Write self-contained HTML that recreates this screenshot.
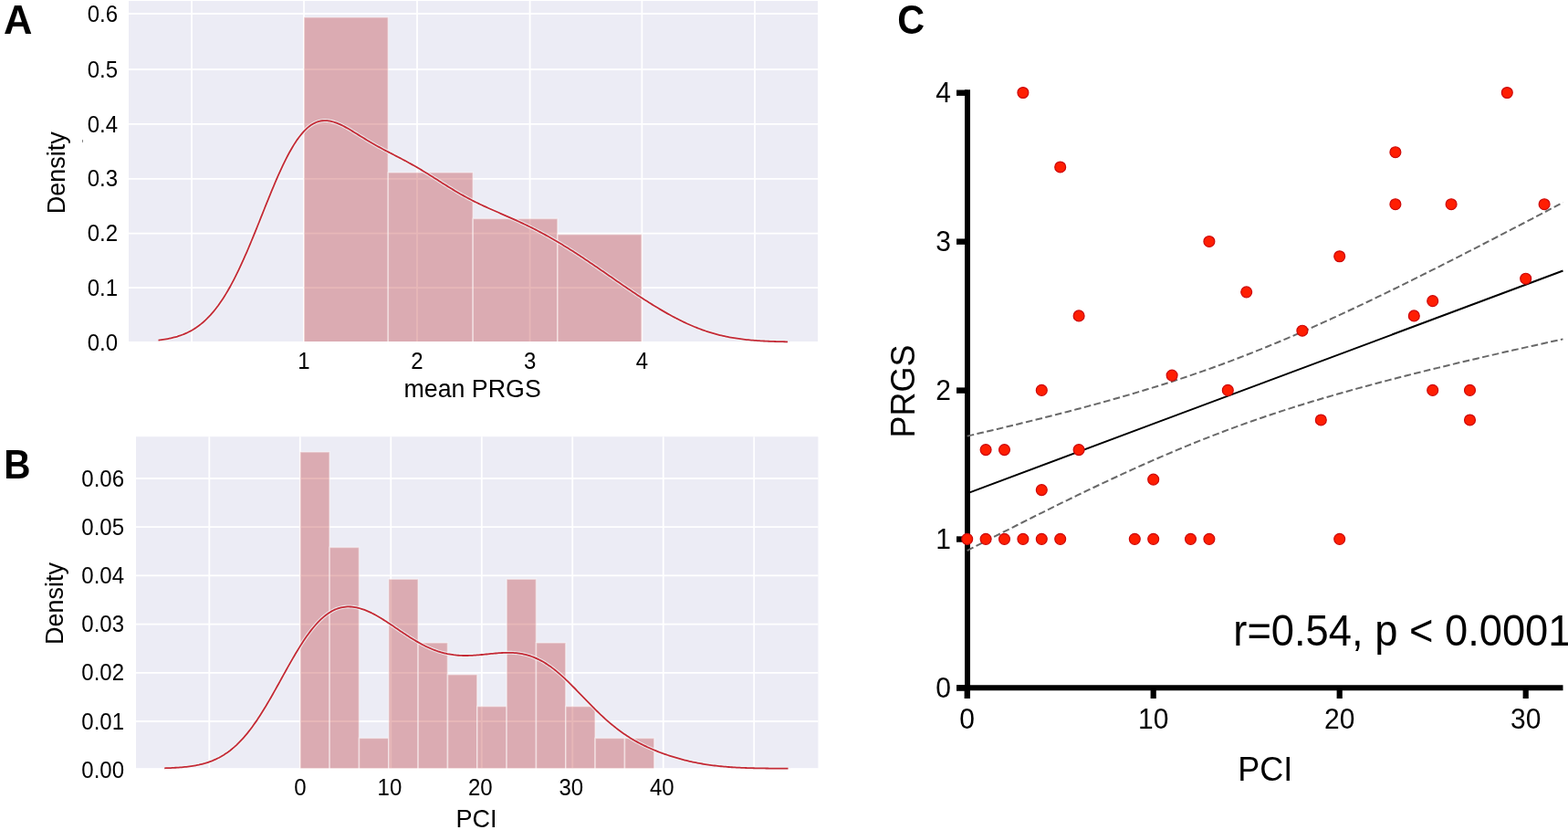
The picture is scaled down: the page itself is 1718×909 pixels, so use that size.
<!DOCTYPE html>
<html><head><meta charset="utf-8"><title>Figure: PRGS and PCI</title>
<style>
html,body{margin:0;padding:0;background:#fff;overflow:hidden;}
svg{display:block;}
text{font-family:"Liberation Sans", Arial, Helvetica, sans-serif;fill:#000;}
</style></head><body>
<svg width="1718" height="909" viewBox="0 0 1718 909">
<rect x="0" y="0" width="1718" height="909" fill="#fff"/>
<rect x="141.0" y="1.1" width="755.0" height="372.9" fill="#ECECF5"/>
<line x1="141.0" y1="15.00" x2="896.0" y2="15.00" stroke="#FFFFFF" stroke-width="1.8"/>
<line x1="141.0" y1="76.00" x2="896.0" y2="76.00" stroke="#FFFFFF" stroke-width="1.8"/>
<line x1="141.0" y1="135.90" x2="896.0" y2="135.90" stroke="#FFFFFF" stroke-width="1.8"/>
<line x1="141.0" y1="195.80" x2="896.0" y2="195.80" stroke="#FFFFFF" stroke-width="1.8"/>
<line x1="141.0" y1="255.60" x2="896.0" y2="255.60" stroke="#FFFFFF" stroke-width="1.8"/>
<line x1="141.0" y1="315.10" x2="896.0" y2="315.10" stroke="#FFFFFF" stroke-width="1.8"/>
<line x1="210.00" y1="1.1" x2="210.00" y2="374.0" stroke="#FFFFFF" stroke-width="1.8"/>
<line x1="333.00" y1="1.1" x2="333.00" y2="374.0" stroke="#FFFFFF" stroke-width="1.8"/>
<line x1="457.00" y1="1.1" x2="457.00" y2="374.0" stroke="#FFFFFF" stroke-width="1.8"/>
<line x1="580.60" y1="1.1" x2="580.60" y2="374.0" stroke="#FFFFFF" stroke-width="1.8"/>
<line x1="703.40" y1="1.1" x2="703.40" y2="374.0" stroke="#FFFFFF" stroke-width="1.8"/>
<line x1="827.00" y1="1.1" x2="827.00" y2="374.0" stroke="#FFFFFF" stroke-width="1.8"/>
<rect x="333.00" y="18.80" width="92.30" height="356.10" fill="#C24C4E" fill-opacity="0.4" stroke="#fff" stroke-opacity="0.45" stroke-width="1.6"/>
<rect x="425.30" y="188.80" width="92.90" height="186.10" fill="#C24C4E" fill-opacity="0.4" stroke="#fff" stroke-opacity="0.45" stroke-width="1.6"/>
<rect x="518.20" y="239.40" width="92.70" height="135.50" fill="#C24C4E" fill-opacity="0.4" stroke="#fff" stroke-opacity="0.45" stroke-width="1.6"/>
<rect x="610.90" y="256.60" width="92.30" height="118.30" fill="#C24C4E" fill-opacity="0.4" stroke="#fff" stroke-opacity="0.45" stroke-width="1.6"/>
<rect x="130" y="374.0" width="780" height="6" fill="#fff"/>
<path d="M173.50 372.59 L175.23 372.39 L176.96 372.16 L178.68 371.91 L180.41 371.65 L182.14 371.36 L183.87 371.04 L185.60 370.70 L187.32 370.33 L189.05 369.92 L190.78 369.49 L192.51 369.02 L194.24 368.52 L195.96 367.97 L197.69 367.39 L199.42 366.76 L201.15 366.09 L202.88 365.36 L204.61 364.59 L206.33 363.77 L208.06 362.88 L209.79 361.94 L211.52 360.94 L213.25 359.87 L214.97 358.74 L216.70 357.54 L218.43 356.27 L220.16 354.92 L221.89 353.49 L223.61 351.99 L225.34 350.40 L227.07 348.73 L228.80 346.97 L230.53 345.12 L232.25 343.18 L233.98 341.15 L235.71 339.02 L237.44 336.80 L239.17 334.48 L240.89 332.06 L242.62 329.55 L244.35 326.93 L246.08 324.21 L247.81 321.40 L249.54 318.48 L251.26 315.46 L252.99 312.35 L254.72 309.14 L256.45 305.83 L258.18 302.43 L259.90 298.94 L261.63 295.36 L263.36 291.70 L265.09 287.95 L266.82 284.13 L268.54 280.23 L270.27 276.27 L272.00 272.24 L273.73 268.15 L275.46 264.01 L277.18 259.82 L278.91 255.59 L280.64 251.33 L282.37 247.03 L284.10 242.72 L285.82 238.40 L287.55 234.07 L289.28 229.75 L291.01 225.43 L292.74 221.13 L294.46 216.86 L296.19 212.62 L297.92 208.43 L299.65 204.28 L301.38 200.20 L303.11 196.18 L304.83 192.23 L306.56 188.37 L308.29 184.60 L310.02 180.92 L311.75 177.34 L313.47 173.88 L315.20 170.52 L316.93 167.29 L318.66 164.19 L320.39 161.21 L322.11 158.38 L323.84 155.68 L325.57 153.12 L327.30 150.71 L329.03 148.44 L330.75 146.33 L332.48 144.36 L334.21 142.55 L335.94 140.89 L337.67 139.37 L339.39 138.01 L341.12 136.80 L342.85 135.73 L344.58 134.81 L346.31 134.03 L348.04 133.38 L349.76 132.87 L351.49 132.49 L353.22 132.23 L354.95 132.10 L356.68 132.07 L358.40 132.16 L360.13 132.35 L361.86 132.64 L363.59 133.02 L365.32 133.49 L367.04 134.04 L368.77 134.66 L370.50 135.35 L372.23 136.10 L373.96 136.90 L375.68 137.76 L377.41 138.65 L379.14 139.59 L380.87 140.56 L382.60 141.56 L384.32 142.58 L386.05 143.62 L387.78 144.67 L389.51 145.73 L391.24 146.80 L392.96 147.87 L394.69 148.94 L396.42 150.01 L398.15 151.07 L399.88 152.13 L401.61 153.17 L403.33 154.21 L405.06 155.24 L406.79 156.25 L408.52 157.25 L410.25 158.24 L411.97 159.21 L413.70 160.18 L415.43 161.13 L417.16 162.07 L418.89 163.00 L420.61 163.92 L422.34 164.83 L424.07 165.73 L425.80 166.63 L427.53 167.53 L429.25 168.42 L430.98 169.31 L432.71 170.20 L434.44 171.09 L436.17 171.99 L437.89 172.88 L439.62 173.79 L441.35 174.70 L443.08 175.61 L444.81 176.54 L446.54 177.48 L448.26 178.42 L449.99 179.37 L451.72 180.34 L453.45 181.32 L455.18 182.31 L456.90 183.31 L458.63 184.32 L460.36 185.34 L462.09 186.37 L463.82 187.41 L465.54 188.46 L467.27 189.52 L469.00 190.59 L470.73 191.67 L472.46 192.75 L474.18 193.83 L475.91 194.92 L477.64 196.01 L479.37 197.11 L481.10 198.20 L482.82 199.29 L484.55 200.39 L486.28 201.47 L488.01 202.56 L489.74 203.63 L491.46 204.71 L493.19 205.77 L494.92 206.82 L496.65 207.87 L498.38 208.90 L500.11 209.93 L501.83 210.94 L503.56 211.94 L505.29 212.93 L507.02 213.90 L508.75 214.86 L510.47 215.81 L512.20 216.74 L513.93 217.66 L515.66 218.56 L517.39 219.45 L519.11 220.33 L520.84 221.20 L522.57 222.05 L524.30 222.89 L526.03 223.72 L527.75 224.54 L529.48 225.35 L531.21 226.15 L532.94 226.94 L534.67 227.72 L536.39 228.50 L538.12 229.26 L539.85 230.03 L541.58 230.79 L543.31 231.54 L545.04 232.30 L546.76 233.05 L548.49 233.80 L550.22 234.55 L551.95 235.30 L553.68 236.05 L555.40 236.81 L557.13 237.57 L558.86 238.33 L560.59 239.09 L562.32 239.87 L564.04 240.64 L565.77 241.42 L567.50 242.21 L569.23 243.01 L570.96 243.81 L572.68 244.62 L574.41 245.44 L576.14 246.27 L577.87 247.11 L579.60 247.95 L581.32 248.80 L583.05 249.67 L584.78 250.54 L586.51 251.42 L588.24 252.31 L589.96 253.21 L591.69 254.12 L593.42 255.04 L595.15 255.97 L596.88 256.91 L598.61 257.86 L600.33 258.82 L602.06 259.78 L603.79 260.76 L605.52 261.74 L607.25 262.74 L608.97 263.74 L610.70 264.76 L612.43 265.78 L614.16 266.81 L615.89 267.85 L617.61 268.90 L619.34 269.96 L621.07 271.02 L622.80 272.10 L624.53 273.18 L626.25 274.27 L627.98 275.36 L629.71 276.47 L631.44 277.58 L633.17 278.70 L634.89 279.83 L636.62 280.96 L638.35 282.10 L640.08 283.25 L641.81 284.40 L643.54 285.56 L645.26 286.72 L646.99 287.89 L648.72 289.06 L650.45 290.24 L652.18 291.42 L653.90 292.60 L655.63 293.79 L657.36 294.98 L659.09 296.17 L660.82 297.36 L662.54 298.56 L664.27 299.76 L666.00 300.96 L667.73 302.15 L669.46 303.35 L671.18 304.55 L672.91 305.75 L674.64 306.95 L676.37 308.14 L678.10 309.33 L679.82 310.53 L681.55 311.71 L683.28 312.90 L685.01 314.08 L686.74 315.26 L688.46 316.44 L690.19 317.61 L691.92 318.77 L693.65 319.93 L695.38 321.09 L697.11 322.24 L698.83 323.38 L700.56 324.52 L702.29 325.65 L704.02 326.78 L705.75 327.90 L707.47 329.01 L709.20 330.11 L710.93 331.20 L712.66 332.29 L714.39 333.37 L716.11 334.44 L717.84 335.50 L719.57 336.55 L721.30 337.59 L723.03 338.62 L724.75 339.64 L726.48 340.64 L728.21 341.64 L729.94 342.63 L731.67 343.60 L733.39 344.56 L735.12 345.51 L736.85 346.44 L738.58 347.37 L740.31 348.27 L742.04 349.17 L743.76 350.05 L745.49 350.91 L747.22 351.76 L748.95 352.59 L750.68 353.41 L752.40 354.21 L754.13 355.00 L755.86 355.77 L757.59 356.52 L759.32 357.25 L761.04 357.97 L762.77 358.67 L764.50 359.35 L766.23 360.02 L767.96 360.66 L769.68 361.29 L771.41 361.90 L773.14 362.50 L774.87 363.07 L776.60 363.63 L778.32 364.16 L780.05 364.68 L781.78 365.19 L783.51 365.67 L785.24 366.14 L786.96 366.59 L788.69 367.02 L790.42 367.44 L792.15 367.83 L793.88 368.22 L795.61 368.58 L797.33 368.93 L799.06 369.27 L800.79 369.59 L802.52 369.89 L804.25 370.18 L805.97 370.46 L807.70 370.72 L809.43 370.97 L811.16 371.21 L812.89 371.43 L814.61 371.65 L816.34 371.85 L818.07 372.04 L819.80 372.22 L821.53 372.39 L823.25 372.54 L824.98 372.69 L826.71 372.83 L828.44 372.96 L830.17 373.09 L831.89 373.20 L833.62 373.31 L835.35 373.41 L837.08 373.51 L838.81 373.59 L840.54 373.67 L842.26 373.75 L843.99 373.82 L845.72 373.89 L847.45 373.95 L849.18 374.00 L850.90 374.05 L852.63 374.10 L854.36 374.15 L856.09 374.19 L857.82 374.22 L859.54 374.26 L861.27 374.29 L863.00 374.32" fill="none" stroke="#F4FBFB" stroke-opacity="0.7" stroke-width="4"/>
<path d="M173.50 372.59 L175.23 372.39 L176.96 372.16 L178.68 371.91 L180.41 371.65 L182.14 371.36 L183.87 371.04 L185.60 370.70 L187.32 370.33 L189.05 369.92 L190.78 369.49 L192.51 369.02 L194.24 368.52 L195.96 367.97 L197.69 367.39 L199.42 366.76 L201.15 366.09 L202.88 365.36 L204.61 364.59 L206.33 363.77 L208.06 362.88 L209.79 361.94 L211.52 360.94 L213.25 359.87 L214.97 358.74 L216.70 357.54 L218.43 356.27 L220.16 354.92 L221.89 353.49 L223.61 351.99 L225.34 350.40 L227.07 348.73 L228.80 346.97 L230.53 345.12 L232.25 343.18 L233.98 341.15 L235.71 339.02 L237.44 336.80 L239.17 334.48 L240.89 332.06 L242.62 329.55 L244.35 326.93 L246.08 324.21 L247.81 321.40 L249.54 318.48 L251.26 315.46 L252.99 312.35 L254.72 309.14 L256.45 305.83 L258.18 302.43 L259.90 298.94 L261.63 295.36 L263.36 291.70 L265.09 287.95 L266.82 284.13 L268.54 280.23 L270.27 276.27 L272.00 272.24 L273.73 268.15 L275.46 264.01 L277.18 259.82 L278.91 255.59 L280.64 251.33 L282.37 247.03 L284.10 242.72 L285.82 238.40 L287.55 234.07 L289.28 229.75 L291.01 225.43 L292.74 221.13 L294.46 216.86 L296.19 212.62 L297.92 208.43 L299.65 204.28 L301.38 200.20 L303.11 196.18 L304.83 192.23 L306.56 188.37 L308.29 184.60 L310.02 180.92 L311.75 177.34 L313.47 173.88 L315.20 170.52 L316.93 167.29 L318.66 164.19 L320.39 161.21 L322.11 158.38 L323.84 155.68 L325.57 153.12 L327.30 150.71 L329.03 148.44 L330.75 146.33 L332.48 144.36 L334.21 142.55 L335.94 140.89 L337.67 139.37 L339.39 138.01 L341.12 136.80 L342.85 135.73 L344.58 134.81 L346.31 134.03 L348.04 133.38 L349.76 132.87 L351.49 132.49 L353.22 132.23 L354.95 132.10 L356.68 132.07 L358.40 132.16 L360.13 132.35 L361.86 132.64 L363.59 133.02 L365.32 133.49 L367.04 134.04 L368.77 134.66 L370.50 135.35 L372.23 136.10 L373.96 136.90 L375.68 137.76 L377.41 138.65 L379.14 139.59 L380.87 140.56 L382.60 141.56 L384.32 142.58 L386.05 143.62 L387.78 144.67 L389.51 145.73 L391.24 146.80 L392.96 147.87 L394.69 148.94 L396.42 150.01 L398.15 151.07 L399.88 152.13 L401.61 153.17 L403.33 154.21 L405.06 155.24 L406.79 156.25 L408.52 157.25 L410.25 158.24 L411.97 159.21 L413.70 160.18 L415.43 161.13 L417.16 162.07 L418.89 163.00 L420.61 163.92 L422.34 164.83 L424.07 165.73 L425.80 166.63 L427.53 167.53 L429.25 168.42 L430.98 169.31 L432.71 170.20 L434.44 171.09 L436.17 171.99 L437.89 172.88 L439.62 173.79 L441.35 174.70 L443.08 175.61 L444.81 176.54 L446.54 177.48 L448.26 178.42 L449.99 179.37 L451.72 180.34 L453.45 181.32 L455.18 182.31 L456.90 183.31 L458.63 184.32 L460.36 185.34 L462.09 186.37 L463.82 187.41 L465.54 188.46 L467.27 189.52 L469.00 190.59 L470.73 191.67 L472.46 192.75 L474.18 193.83 L475.91 194.92 L477.64 196.01 L479.37 197.11 L481.10 198.20 L482.82 199.29 L484.55 200.39 L486.28 201.47 L488.01 202.56 L489.74 203.63 L491.46 204.71 L493.19 205.77 L494.92 206.82 L496.65 207.87 L498.38 208.90 L500.11 209.93 L501.83 210.94 L503.56 211.94 L505.29 212.93 L507.02 213.90 L508.75 214.86 L510.47 215.81 L512.20 216.74 L513.93 217.66 L515.66 218.56 L517.39 219.45 L519.11 220.33 L520.84 221.20 L522.57 222.05 L524.30 222.89 L526.03 223.72 L527.75 224.54 L529.48 225.35 L531.21 226.15 L532.94 226.94 L534.67 227.72 L536.39 228.50 L538.12 229.26 L539.85 230.03 L541.58 230.79 L543.31 231.54 L545.04 232.30 L546.76 233.05 L548.49 233.80 L550.22 234.55 L551.95 235.30 L553.68 236.05 L555.40 236.81 L557.13 237.57 L558.86 238.33 L560.59 239.09 L562.32 239.87 L564.04 240.64 L565.77 241.42 L567.50 242.21 L569.23 243.01 L570.96 243.81 L572.68 244.62 L574.41 245.44 L576.14 246.27 L577.87 247.11 L579.60 247.95 L581.32 248.80 L583.05 249.67 L584.78 250.54 L586.51 251.42 L588.24 252.31 L589.96 253.21 L591.69 254.12 L593.42 255.04 L595.15 255.97 L596.88 256.91 L598.61 257.86 L600.33 258.82 L602.06 259.78 L603.79 260.76 L605.52 261.74 L607.25 262.74 L608.97 263.74 L610.70 264.76 L612.43 265.78 L614.16 266.81 L615.89 267.85 L617.61 268.90 L619.34 269.96 L621.07 271.02 L622.80 272.10 L624.53 273.18 L626.25 274.27 L627.98 275.36 L629.71 276.47 L631.44 277.58 L633.17 278.70 L634.89 279.83 L636.62 280.96 L638.35 282.10 L640.08 283.25 L641.81 284.40 L643.54 285.56 L645.26 286.72 L646.99 287.89 L648.72 289.06 L650.45 290.24 L652.18 291.42 L653.90 292.60 L655.63 293.79 L657.36 294.98 L659.09 296.17 L660.82 297.36 L662.54 298.56 L664.27 299.76 L666.00 300.96 L667.73 302.15 L669.46 303.35 L671.18 304.55 L672.91 305.75 L674.64 306.95 L676.37 308.14 L678.10 309.33 L679.82 310.53 L681.55 311.71 L683.28 312.90 L685.01 314.08 L686.74 315.26 L688.46 316.44 L690.19 317.61 L691.92 318.77 L693.65 319.93 L695.38 321.09 L697.11 322.24 L698.83 323.38 L700.56 324.52 L702.29 325.65 L704.02 326.78 L705.75 327.90 L707.47 329.01 L709.20 330.11 L710.93 331.20 L712.66 332.29 L714.39 333.37 L716.11 334.44 L717.84 335.50 L719.57 336.55 L721.30 337.59 L723.03 338.62 L724.75 339.64 L726.48 340.64 L728.21 341.64 L729.94 342.63 L731.67 343.60 L733.39 344.56 L735.12 345.51 L736.85 346.44 L738.58 347.37 L740.31 348.27 L742.04 349.17 L743.76 350.05 L745.49 350.91 L747.22 351.76 L748.95 352.59 L750.68 353.41 L752.40 354.21 L754.13 355.00 L755.86 355.77 L757.59 356.52 L759.32 357.25 L761.04 357.97 L762.77 358.67 L764.50 359.35 L766.23 360.02 L767.96 360.66 L769.68 361.29 L771.41 361.90 L773.14 362.50 L774.87 363.07 L776.60 363.63 L778.32 364.16 L780.05 364.68 L781.78 365.19 L783.51 365.67 L785.24 366.14 L786.96 366.59 L788.69 367.02 L790.42 367.44 L792.15 367.83 L793.88 368.22 L795.61 368.58 L797.33 368.93 L799.06 369.27 L800.79 369.59 L802.52 369.89 L804.25 370.18 L805.97 370.46 L807.70 370.72 L809.43 370.97 L811.16 371.21 L812.89 371.43 L814.61 371.65 L816.34 371.85 L818.07 372.04 L819.80 372.22 L821.53 372.39 L823.25 372.54 L824.98 372.69 L826.71 372.83 L828.44 372.96 L830.17 373.09 L831.89 373.20 L833.62 373.31 L835.35 373.41 L837.08 373.51 L838.81 373.59 L840.54 373.67 L842.26 373.75 L843.99 373.82 L845.72 373.89 L847.45 373.95 L849.18 374.00 L850.90 374.05 L852.63 374.10 L854.36 374.15 L856.09 374.19 L857.82 374.22 L859.54 374.26 L861.27 374.29 L863.00 374.32" fill="none" stroke="#C42A36" stroke-width="1.8"/>
<rect x="90" y="153" width="1" height="3" fill="#8a8a8a"/>
<rect x="149.0" y="478.2" width="747.4" height="363.2" fill="#ECECF5"/>
<line x1="149.0" y1="524.00" x2="896.4" y2="524.00" stroke="#FFFFFF" stroke-width="1.8"/>
<line x1="149.0" y1="577.20" x2="896.4" y2="577.20" stroke="#FFFFFF" stroke-width="1.8"/>
<line x1="149.0" y1="630.40" x2="896.4" y2="630.40" stroke="#FFFFFF" stroke-width="1.8"/>
<line x1="149.0" y1="683.60" x2="896.4" y2="683.60" stroke="#FFFFFF" stroke-width="1.8"/>
<line x1="149.0" y1="736.80" x2="896.4" y2="736.80" stroke="#FFFFFF" stroke-width="1.8"/>
<line x1="149.0" y1="790.00" x2="896.4" y2="790.00" stroke="#FFFFFF" stroke-width="1.8"/>
<line x1="229.32" y1="478.2" x2="229.32" y2="841.4" stroke="#FFFFFF" stroke-width="1.8"/>
<line x1="328.80" y1="478.2" x2="328.80" y2="841.4" stroke="#FFFFFF" stroke-width="1.8"/>
<line x1="428.28" y1="478.2" x2="428.28" y2="841.4" stroke="#FFFFFF" stroke-width="1.8"/>
<line x1="527.76" y1="478.2" x2="527.76" y2="841.4" stroke="#FFFFFF" stroke-width="1.8"/>
<line x1="627.24" y1="478.2" x2="627.24" y2="841.4" stroke="#FFFFFF" stroke-width="1.8"/>
<line x1="726.72" y1="478.2" x2="726.72" y2="841.4" stroke="#FFFFFF" stroke-width="1.8"/>
<line x1="826.20" y1="478.2" x2="826.20" y2="841.4" stroke="#FFFFFF" stroke-width="1.8"/>
<rect x="328.80" y="494.90" width="32.33" height="348.30" fill="#C24C4E" fill-opacity="0.4" stroke="#fff" stroke-opacity="0.45" stroke-width="1.6"/>
<rect x="361.13" y="599.39" width="32.33" height="243.81" fill="#C24C4E" fill-opacity="0.4" stroke="#fff" stroke-opacity="0.45" stroke-width="1.6"/>
<rect x="393.46" y="808.37" width="32.33" height="34.83" fill="#C24C4E" fill-opacity="0.4" stroke="#fff" stroke-opacity="0.45" stroke-width="1.6"/>
<rect x="425.79" y="634.22" width="32.33" height="208.98" fill="#C24C4E" fill-opacity="0.4" stroke="#fff" stroke-opacity="0.45" stroke-width="1.6"/>
<rect x="458.12" y="703.88" width="32.33" height="139.32" fill="#C24C4E" fill-opacity="0.4" stroke="#fff" stroke-opacity="0.45" stroke-width="1.6"/>
<rect x="490.46" y="738.71" width="32.33" height="104.49" fill="#C24C4E" fill-opacity="0.4" stroke="#fff" stroke-opacity="0.45" stroke-width="1.6"/>
<rect x="522.79" y="773.54" width="32.33" height="69.66" fill="#C24C4E" fill-opacity="0.4" stroke="#fff" stroke-opacity="0.45" stroke-width="1.6"/>
<rect x="555.12" y="634.22" width="32.33" height="208.98" fill="#C24C4E" fill-opacity="0.4" stroke="#fff" stroke-opacity="0.45" stroke-width="1.6"/>
<rect x="587.45" y="703.88" width="32.33" height="139.32" fill="#C24C4E" fill-opacity="0.4" stroke="#fff" stroke-opacity="0.45" stroke-width="1.6"/>
<rect x="619.78" y="773.54" width="32.33" height="69.66" fill="#C24C4E" fill-opacity="0.4" stroke="#fff" stroke-opacity="0.45" stroke-width="1.6"/>
<rect x="652.11" y="808.37" width="32.33" height="34.83" fill="#C24C4E" fill-opacity="0.4" stroke="#fff" stroke-opacity="0.45" stroke-width="1.6"/>
<rect x="684.44" y="808.37" width="32.33" height="34.83" fill="#C24C4E" fill-opacity="0.4" stroke="#fff" stroke-opacity="0.45" stroke-width="1.6"/>
<rect x="130" y="841.4" width="780" height="8" fill="#fff"/>
<path d="M180.20 841.28 L181.91 841.22 L183.63 841.17 L185.34 841.10 L187.05 841.03 L188.76 840.95 L190.48 840.87 L192.19 840.77 L193.90 840.67 L195.61 840.55 L197.33 840.42 L199.04 840.28 L200.75 840.13 L202.46 839.96 L204.18 839.78 L205.89 839.58 L207.60 839.36 L209.31 839.13 L211.03 838.87 L212.74 838.59 L214.45 838.28 L216.16 837.95 L217.88 837.60 L219.59 837.21 L221.30 836.80 L223.01 836.35 L224.73 835.87 L226.44 835.35 L228.15 834.79 L229.86 834.20 L231.58 833.56 L233.29 832.88 L235.00 832.15 L236.71 831.38 L238.43 830.55 L240.14 829.68 L241.85 828.75 L243.56 827.76 L245.28 826.72 L246.99 825.61 L248.70 824.45 L250.41 823.22 L252.13 821.92 L253.84 820.56 L255.55 819.13 L257.26 817.64 L258.98 816.07 L260.69 814.43 L262.40 812.72 L264.11 810.94 L265.83 809.08 L267.54 807.16 L269.25 805.15 L270.96 803.08 L272.68 800.93 L274.39 798.72 L276.10 796.43 L277.81 794.07 L279.53 791.64 L281.24 789.15 L282.95 786.60 L284.66 783.98 L286.38 781.30 L288.09 778.57 L289.80 775.78 L291.51 772.95 L293.23 770.07 L294.94 767.14 L296.65 764.18 L298.36 761.18 L300.08 758.16 L301.79 755.11 L303.50 752.04 L305.21 748.95 L306.93 745.86 L308.64 742.76 L310.35 739.66 L312.06 736.57 L313.78 733.49 L315.49 730.42 L317.20 727.38 L318.92 724.36 L320.63 721.38 L322.34 718.44 L324.05 715.54 L325.77 712.68 L327.48 709.88 L329.19 707.14 L330.90 704.46 L332.62 701.85 L334.33 699.30 L336.04 696.83 L337.75 694.44 L339.47 692.13 L341.18 689.90 L342.89 687.76 L344.60 685.71 L346.32 683.74 L348.03 681.88 L349.74 680.10 L351.45 678.42 L353.17 676.84 L354.88 675.36 L356.59 673.97 L358.30 672.68 L360.02 671.49 L361.73 670.40 L363.44 669.40 L365.15 668.50 L366.87 667.69 L368.58 666.98 L370.29 666.36 L372.00 665.83 L373.72 665.39 L375.43 665.03 L377.14 664.77 L378.85 664.58 L380.57 664.47 L382.28 664.45 L383.99 664.50 L385.70 664.62 L387.42 664.82 L389.13 665.08 L390.84 665.41 L392.55 665.80 L394.27 666.25 L395.98 666.77 L397.69 667.33 L399.40 667.95 L401.12 668.63 L402.83 669.35 L404.54 670.11 L406.25 670.92 L407.97 671.77 L409.68 672.66 L411.39 673.58 L413.10 674.53 L414.82 675.52 L416.53 676.53 L418.24 677.57 L419.95 678.63 L421.67 679.71 L423.38 680.81 L425.09 681.93 L426.80 683.06 L428.52 684.20 L430.23 685.35 L431.94 686.50 L433.65 687.66 L435.37 688.82 L437.08 689.98 L438.79 691.14 L440.50 692.30 L442.22 693.44 L443.93 694.58 L445.64 695.70 L447.35 696.82 L449.07 697.91 L450.78 699.00 L452.49 700.06 L454.21 701.10 L455.92 702.12 L457.63 703.11 L459.34 704.08 L461.06 705.02 L462.77 705.94 L464.48 706.82 L466.19 707.68 L467.91 708.50 L469.62 709.29 L471.33 710.05 L473.04 710.78 L474.76 711.47 L476.47 712.12 L478.18 712.74 L479.89 713.33 L481.61 713.87 L483.32 714.39 L485.03 714.86 L486.74 715.30 L488.46 715.71 L490.17 716.08 L491.88 716.41 L493.59 716.71 L495.31 716.98 L497.02 717.22 L498.73 717.42 L500.44 717.59 L502.16 717.73 L503.87 717.84 L505.58 717.92 L507.29 717.98 L509.01 718.01 L510.72 718.01 L512.43 718.00 L514.14 717.95 L515.86 717.89 L517.57 717.81 L519.28 717.72 L520.99 717.60 L522.71 717.47 L524.42 717.33 L526.13 717.18 L527.84 717.02 L529.56 716.85 L531.27 716.68 L532.98 716.50 L534.69 716.32 L536.41 716.15 L538.12 715.97 L539.83 715.80 L541.54 715.64 L543.26 715.48 L544.97 715.34 L546.68 715.20 L548.39 715.09 L550.11 714.99 L551.82 714.90 L553.53 714.84 L555.24 714.81 L556.96 714.80 L558.67 714.81 L560.38 714.86 L562.09 714.94 L563.81 715.05 L565.52 715.20 L567.23 715.38 L568.94 715.60 L570.66 715.87 L572.37 716.17 L574.08 716.52 L575.79 716.92 L577.51 717.36 L579.22 717.85 L580.93 718.39 L582.64 718.98 L584.36 719.62 L586.07 720.31 L587.78 721.06 L589.49 721.85 L591.21 722.70 L592.92 723.60 L594.63 724.56 L596.35 725.56 L598.06 726.62 L599.77 727.73 L601.48 728.89 L603.20 730.10 L604.91 731.35 L606.62 732.66 L608.33 734.01 L610.05 735.40 L611.76 736.83 L613.47 738.31 L615.18 739.82 L616.90 741.37 L618.61 742.95 L620.32 744.56 L622.03 746.21 L623.75 747.87 L625.46 749.56 L627.17 751.28 L628.88 753.00 L630.60 754.75 L632.31 756.51 L634.02 758.27 L635.73 760.05 L637.45 761.82 L639.16 763.60 L640.87 765.38 L642.58 767.15 L644.30 768.92 L646.01 770.68 L647.72 772.43 L649.43 774.16 L651.15 775.88 L652.86 777.58 L654.57 779.26 L656.28 780.92 L658.00 782.55 L659.71 784.17 L661.42 785.75 L663.13 787.31 L664.85 788.84 L666.56 790.35 L668.27 791.82 L669.98 793.26 L671.70 794.67 L673.41 796.05 L675.12 797.40 L676.83 798.72 L678.55 800.00 L680.26 801.26 L681.97 802.48 L683.68 803.67 L685.40 804.83 L687.11 805.96 L688.82 807.07 L690.53 808.14 L692.25 809.18 L693.96 810.20 L695.67 811.19 L697.38 812.15 L699.10 813.09 L700.81 814.00 L702.52 814.89 L704.23 815.76 L705.95 816.60 L707.66 817.43 L709.37 818.23 L711.08 819.01 L712.80 819.77 L714.51 820.51 L716.22 821.24 L717.93 821.95 L719.65 822.64 L721.36 823.31 L723.07 823.97 L724.78 824.61 L726.50 825.23 L728.21 825.84 L729.92 826.44 L731.64 827.02 L733.35 827.59 L735.06 828.14 L736.77 828.68 L738.49 829.21 L740.20 829.73 L741.91 830.23 L743.62 830.71 L745.34 831.19 L747.05 831.65 L748.76 832.10 L750.47 832.53 L752.19 832.96 L753.90 833.37 L755.61 833.76 L757.32 834.15 L759.04 834.52 L760.75 834.88 L762.46 835.23 L764.17 835.57 L765.89 835.89 L767.60 836.21 L769.31 836.51 L771.02 836.79 L772.74 837.07 L774.45 837.34 L776.16 837.59 L777.87 837.84 L779.59 838.07 L781.30 838.29 L783.01 838.51 L784.72 838.71 L786.44 838.90 L788.15 839.08 L789.86 839.26 L791.57 839.42 L793.29 839.58 L795.00 839.72 L796.71 839.86 L798.42 839.99 L800.14 840.12 L801.85 840.23 L803.56 840.34 L805.27 840.45 L806.99 840.54 L808.70 840.63 L810.41 840.72 L812.12 840.79 L813.84 840.87 L815.55 840.94 L817.26 841.00 L818.97 841.06 L820.69 841.11 L822.40 841.16 L824.11 841.21 L825.82 841.25 L827.54 841.29 L829.25 841.33 L830.96 841.36 L832.67 841.39 L834.39 841.42 L836.10 841.45 L837.81 841.47 L839.52 841.50 L841.24 841.52 L842.95 841.53 L844.66 841.55 L846.37 841.57 L848.09 841.58 L849.80 841.59 L851.51 841.60 L853.22 841.61 L854.94 841.62 L856.65 841.63 L858.36 841.64 L860.07 841.64 L861.79 841.65 L863.50 841.66" fill="none" stroke="#F4FBFB" stroke-opacity="0.7" stroke-width="4"/>
<path d="M180.20 841.28 L181.91 841.22 L183.63 841.17 L185.34 841.10 L187.05 841.03 L188.76 840.95 L190.48 840.87 L192.19 840.77 L193.90 840.67 L195.61 840.55 L197.33 840.42 L199.04 840.28 L200.75 840.13 L202.46 839.96 L204.18 839.78 L205.89 839.58 L207.60 839.36 L209.31 839.13 L211.03 838.87 L212.74 838.59 L214.45 838.28 L216.16 837.95 L217.88 837.60 L219.59 837.21 L221.30 836.80 L223.01 836.35 L224.73 835.87 L226.44 835.35 L228.15 834.79 L229.86 834.20 L231.58 833.56 L233.29 832.88 L235.00 832.15 L236.71 831.38 L238.43 830.55 L240.14 829.68 L241.85 828.75 L243.56 827.76 L245.28 826.72 L246.99 825.61 L248.70 824.45 L250.41 823.22 L252.13 821.92 L253.84 820.56 L255.55 819.13 L257.26 817.64 L258.98 816.07 L260.69 814.43 L262.40 812.72 L264.11 810.94 L265.83 809.08 L267.54 807.16 L269.25 805.15 L270.96 803.08 L272.68 800.93 L274.39 798.72 L276.10 796.43 L277.81 794.07 L279.53 791.64 L281.24 789.15 L282.95 786.60 L284.66 783.98 L286.38 781.30 L288.09 778.57 L289.80 775.78 L291.51 772.95 L293.23 770.07 L294.94 767.14 L296.65 764.18 L298.36 761.18 L300.08 758.16 L301.79 755.11 L303.50 752.04 L305.21 748.95 L306.93 745.86 L308.64 742.76 L310.35 739.66 L312.06 736.57 L313.78 733.49 L315.49 730.42 L317.20 727.38 L318.92 724.36 L320.63 721.38 L322.34 718.44 L324.05 715.54 L325.77 712.68 L327.48 709.88 L329.19 707.14 L330.90 704.46 L332.62 701.85 L334.33 699.30 L336.04 696.83 L337.75 694.44 L339.47 692.13 L341.18 689.90 L342.89 687.76 L344.60 685.71 L346.32 683.74 L348.03 681.88 L349.74 680.10 L351.45 678.42 L353.17 676.84 L354.88 675.36 L356.59 673.97 L358.30 672.68 L360.02 671.49 L361.73 670.40 L363.44 669.40 L365.15 668.50 L366.87 667.69 L368.58 666.98 L370.29 666.36 L372.00 665.83 L373.72 665.39 L375.43 665.03 L377.14 664.77 L378.85 664.58 L380.57 664.47 L382.28 664.45 L383.99 664.50 L385.70 664.62 L387.42 664.82 L389.13 665.08 L390.84 665.41 L392.55 665.80 L394.27 666.25 L395.98 666.77 L397.69 667.33 L399.40 667.95 L401.12 668.63 L402.83 669.35 L404.54 670.11 L406.25 670.92 L407.97 671.77 L409.68 672.66 L411.39 673.58 L413.10 674.53 L414.82 675.52 L416.53 676.53 L418.24 677.57 L419.95 678.63 L421.67 679.71 L423.38 680.81 L425.09 681.93 L426.80 683.06 L428.52 684.20 L430.23 685.35 L431.94 686.50 L433.65 687.66 L435.37 688.82 L437.08 689.98 L438.79 691.14 L440.50 692.30 L442.22 693.44 L443.93 694.58 L445.64 695.70 L447.35 696.82 L449.07 697.91 L450.78 699.00 L452.49 700.06 L454.21 701.10 L455.92 702.12 L457.63 703.11 L459.34 704.08 L461.06 705.02 L462.77 705.94 L464.48 706.82 L466.19 707.68 L467.91 708.50 L469.62 709.29 L471.33 710.05 L473.04 710.78 L474.76 711.47 L476.47 712.12 L478.18 712.74 L479.89 713.33 L481.61 713.87 L483.32 714.39 L485.03 714.86 L486.74 715.30 L488.46 715.71 L490.17 716.08 L491.88 716.41 L493.59 716.71 L495.31 716.98 L497.02 717.22 L498.73 717.42 L500.44 717.59 L502.16 717.73 L503.87 717.84 L505.58 717.92 L507.29 717.98 L509.01 718.01 L510.72 718.01 L512.43 718.00 L514.14 717.95 L515.86 717.89 L517.57 717.81 L519.28 717.72 L520.99 717.60 L522.71 717.47 L524.42 717.33 L526.13 717.18 L527.84 717.02 L529.56 716.85 L531.27 716.68 L532.98 716.50 L534.69 716.32 L536.41 716.15 L538.12 715.97 L539.83 715.80 L541.54 715.64 L543.26 715.48 L544.97 715.34 L546.68 715.20 L548.39 715.09 L550.11 714.99 L551.82 714.90 L553.53 714.84 L555.24 714.81 L556.96 714.80 L558.67 714.81 L560.38 714.86 L562.09 714.94 L563.81 715.05 L565.52 715.20 L567.23 715.38 L568.94 715.60 L570.66 715.87 L572.37 716.17 L574.08 716.52 L575.79 716.92 L577.51 717.36 L579.22 717.85 L580.93 718.39 L582.64 718.98 L584.36 719.62 L586.07 720.31 L587.78 721.06 L589.49 721.85 L591.21 722.70 L592.92 723.60 L594.63 724.56 L596.35 725.56 L598.06 726.62 L599.77 727.73 L601.48 728.89 L603.20 730.10 L604.91 731.35 L606.62 732.66 L608.33 734.01 L610.05 735.40 L611.76 736.83 L613.47 738.31 L615.18 739.82 L616.90 741.37 L618.61 742.95 L620.32 744.56 L622.03 746.21 L623.75 747.87 L625.46 749.56 L627.17 751.28 L628.88 753.00 L630.60 754.75 L632.31 756.51 L634.02 758.27 L635.73 760.05 L637.45 761.82 L639.16 763.60 L640.87 765.38 L642.58 767.15 L644.30 768.92 L646.01 770.68 L647.72 772.43 L649.43 774.16 L651.15 775.88 L652.86 777.58 L654.57 779.26 L656.28 780.92 L658.00 782.55 L659.71 784.17 L661.42 785.75 L663.13 787.31 L664.85 788.84 L666.56 790.35 L668.27 791.82 L669.98 793.26 L671.70 794.67 L673.41 796.05 L675.12 797.40 L676.83 798.72 L678.55 800.00 L680.26 801.26 L681.97 802.48 L683.68 803.67 L685.40 804.83 L687.11 805.96 L688.82 807.07 L690.53 808.14 L692.25 809.18 L693.96 810.20 L695.67 811.19 L697.38 812.15 L699.10 813.09 L700.81 814.00 L702.52 814.89 L704.23 815.76 L705.95 816.60 L707.66 817.43 L709.37 818.23 L711.08 819.01 L712.80 819.77 L714.51 820.51 L716.22 821.24 L717.93 821.95 L719.65 822.64 L721.36 823.31 L723.07 823.97 L724.78 824.61 L726.50 825.23 L728.21 825.84 L729.92 826.44 L731.64 827.02 L733.35 827.59 L735.06 828.14 L736.77 828.68 L738.49 829.21 L740.20 829.73 L741.91 830.23 L743.62 830.71 L745.34 831.19 L747.05 831.65 L748.76 832.10 L750.47 832.53 L752.19 832.96 L753.90 833.37 L755.61 833.76 L757.32 834.15 L759.04 834.52 L760.75 834.88 L762.46 835.23 L764.17 835.57 L765.89 835.89 L767.60 836.21 L769.31 836.51 L771.02 836.79 L772.74 837.07 L774.45 837.34 L776.16 837.59 L777.87 837.84 L779.59 838.07 L781.30 838.29 L783.01 838.51 L784.72 838.71 L786.44 838.90 L788.15 839.08 L789.86 839.26 L791.57 839.42 L793.29 839.58 L795.00 839.72 L796.71 839.86 L798.42 839.99 L800.14 840.12 L801.85 840.23 L803.56 840.34 L805.27 840.45 L806.99 840.54 L808.70 840.63 L810.41 840.72 L812.12 840.79 L813.84 840.87 L815.55 840.94 L817.26 841.00 L818.97 841.06 L820.69 841.11 L822.40 841.16 L824.11 841.21 L825.82 841.25 L827.54 841.29 L829.25 841.33 L830.96 841.36 L832.67 841.39 L834.39 841.42 L836.10 841.45 L837.81 841.47 L839.52 841.50 L841.24 841.52 L842.95 841.53 L844.66 841.55 L846.37 841.57 L848.09 841.58 L849.80 841.59 L851.51 841.60 L853.22 841.61 L854.94 841.62 L856.65 841.63 L858.36 841.64 L860.07 841.64 L861.79 841.65 L863.50 841.66" fill="none" stroke="#C42A36" stroke-width="1.8"/>
<path d="M1060 98.3 V765" stroke="#000" stroke-width="6" fill="none"/>
<path d="M1048 753.3 H1712.5" stroke="#000" stroke-width="6" fill="none"/>
<path d="M1048 753.50 H1060" stroke="#000" stroke-width="6.4" fill="none"/>
<path d="M1048 590.55 H1060" stroke="#000" stroke-width="6.4" fill="none"/>
<path d="M1048 427.60 H1060" stroke="#000" stroke-width="6.4" fill="none"/>
<path d="M1048 264.65 H1060" stroke="#000" stroke-width="6.4" fill="none"/>
<path d="M1048 101.70 H1060" stroke="#000" stroke-width="6.4" fill="none"/>
<path d="M1059.70 753 V765" stroke="#000" stroke-width="6.2" fill="none"/>
<path d="M1263.70 753 V765" stroke="#000" stroke-width="6.2" fill="none"/>
<path d="M1467.70 753 V765" stroke="#000" stroke-width="6.2" fill="none"/>
<path d="M1671.70 753 V765" stroke="#000" stroke-width="6.2" fill="none"/>
<path d="M1059.70 477.63 L1065.19 476.36 L1070.67 475.09 L1076.16 473.81 L1081.64 472.52 L1087.13 471.23 L1092.61 469.93 L1098.10 468.63 L1103.59 467.31 L1109.07 465.99 L1114.56 464.67 L1120.04 463.33 L1125.53 461.99 L1131.01 460.64 L1136.50 459.28 L1141.99 457.91 L1147.47 456.53 L1152.96 455.14 L1158.44 453.75 L1163.93 452.34 L1169.41 450.92 L1174.90 449.49 L1180.39 448.04 L1185.87 446.59 L1191.36 445.12 L1196.84 443.64 L1202.33 442.14 L1207.81 440.64 L1213.30 439.11 L1218.79 437.57 L1224.27 436.02 L1229.76 434.44 L1235.24 432.85 L1240.73 431.25 L1246.21 429.62 L1251.70 427.98 L1257.19 426.32 L1262.67 424.63 L1268.16 422.93 L1273.64 421.21 L1279.13 419.46 L1284.61 417.69 L1290.10 415.90 L1295.59 414.09 L1301.07 412.25 L1306.56 410.39 L1312.04 408.51 L1317.53 406.60 L1323.01 404.66 L1328.50 402.71 L1333.99 400.72 L1339.47 398.71 L1344.96 396.68 L1350.44 394.62 L1355.93 392.53 L1361.41 390.42 L1366.90 388.29 L1372.39 386.13 L1377.87 383.94 L1383.36 381.73 L1388.84 379.50 L1394.33 377.24 L1399.81 374.96 L1405.30 372.66 L1410.79 370.33 L1416.27 367.98 L1421.76 365.61 L1427.24 363.22 L1432.73 360.81 L1438.21 358.38 L1443.70 355.93 L1449.19 353.46 L1454.67 350.97 L1460.16 348.46 L1465.64 345.94 L1471.13 343.40 L1476.61 340.85 L1482.10 338.28 L1487.59 335.69 L1493.07 333.09 L1498.56 330.48 L1504.04 327.85 L1509.53 325.21 L1515.01 322.56 L1520.50 319.89 L1525.99 317.21 L1531.47 314.53 L1536.96 311.83 L1542.44 309.12 L1547.93 306.40 L1553.41 303.68 L1558.90 300.94 L1564.39 298.20 L1569.87 295.44 L1575.36 292.68 L1580.84 289.91 L1586.33 287.14 L1591.81 284.35 L1597.30 281.56 L1602.79 278.76 L1608.27 275.96 L1613.76 273.15 L1619.24 270.33 L1624.73 267.51 L1630.21 264.68 L1635.70 261.85 L1641.19 259.01 L1646.67 256.17 L1652.16 253.33 L1657.64 250.47 L1663.13 247.62 L1668.61 244.76 L1674.10 241.89 L1679.59 239.02 L1685.07 236.15 L1690.56 233.28 L1696.04 230.40 L1701.53 227.51 L1707.01 224.63 L1712.50 221.74" fill="none" stroke="#686868" stroke-width="2" stroke-dasharray="7.6 3.4"/>
<path d="M1059.70 603.02 L1065.19 600.19 L1070.67 597.37 L1076.16 594.55 L1081.64 591.74 L1087.13 588.93 L1092.61 586.14 L1098.10 583.34 L1103.59 580.56 L1109.07 577.78 L1114.56 575.01 L1120.04 572.25 L1125.53 569.49 L1131.01 566.75 L1136.50 564.01 L1141.99 561.28 L1147.47 558.56 L1152.96 555.85 L1158.44 553.16 L1163.93 550.47 L1169.41 547.79 L1174.90 545.12 L1180.39 542.47 L1185.87 539.83 L1191.36 537.20 L1196.84 534.58 L1202.33 531.98 L1207.81 529.39 L1213.30 526.82 L1218.79 524.26 L1224.27 521.72 L1229.76 519.20 L1235.24 516.69 L1240.73 514.20 L1246.21 511.73 L1251.70 509.27 L1257.19 506.84 L1262.67 504.43 L1268.16 502.03 L1273.64 499.66 L1279.13 497.31 L1284.61 494.98 L1290.10 492.67 L1295.59 490.39 L1301.07 488.13 L1306.56 485.89 L1312.04 483.68 L1317.53 481.49 L1323.01 479.33 L1328.50 477.19 L1333.99 475.08 L1339.47 472.99 L1344.96 470.92 L1350.44 468.89 L1355.93 466.87 L1361.41 464.89 L1366.90 462.93 L1372.39 460.99 L1377.87 459.08 L1383.36 457.19 L1388.84 455.33 L1394.33 453.49 L1399.81 451.67 L1405.30 449.88 L1410.79 448.11 L1416.27 446.36 L1421.76 444.63 L1427.24 442.93 L1432.73 441.24 L1438.21 439.58 L1443.70 437.93 L1449.19 436.30 L1454.67 434.69 L1460.16 433.10 L1465.64 431.53 L1471.13 429.97 L1476.61 428.43 L1482.10 426.90 L1487.59 425.39 L1493.07 423.89 L1498.56 422.41 L1504.04 420.94 L1509.53 419.48 L1515.01 418.04 L1520.50 416.61 L1525.99 415.19 L1531.47 413.78 L1536.96 412.38 L1542.44 410.99 L1547.93 409.61 L1553.41 408.24 L1558.90 406.88 L1564.39 405.53 L1569.87 404.18 L1575.36 402.85 L1580.84 401.52 L1586.33 400.20 L1591.81 398.89 L1597.30 397.58 L1602.79 396.28 L1608.27 394.99 L1613.76 393.70 L1619.24 392.42 L1624.73 391.14 L1630.21 389.87 L1635.70 388.61 L1641.19 387.35 L1646.67 386.09 L1652.16 384.84 L1657.64 383.60 L1663.13 382.36 L1668.61 381.12 L1674.10 379.89 L1679.59 378.66 L1685.07 377.44 L1690.56 376.21 L1696.04 375.00 L1701.53 373.78 L1707.01 372.57 L1712.50 371.36" fill="none" stroke="#686868" stroke-width="2" stroke-dasharray="7.6 3.4"/>
<line x1="1059.70" y1="540.32" x2="1712.50" y2="296.55" stroke="#000" stroke-width="2"/>
<circle cx="1120.90" cy="101.50" r="5.95" fill="#FF1E02" stroke="#CC0808" stroke-width="1.2"/>
<circle cx="1651.30" cy="101.50" r="5.95" fill="#FF1E02" stroke="#CC0808" stroke-width="1.2"/>
<circle cx="1161.70" cy="182.98" r="5.95" fill="#FF1E02" stroke="#CC0808" stroke-width="1.2"/>
<circle cx="1528.90" cy="166.68" r="5.95" fill="#FF1E02" stroke="#CC0808" stroke-width="1.2"/>
<circle cx="1528.90" cy="223.71" r="5.95" fill="#FF1E02" stroke="#CC0808" stroke-width="1.2"/>
<circle cx="1590.10" cy="223.71" r="5.95" fill="#FF1E02" stroke="#CC0808" stroke-width="1.2"/>
<circle cx="1692.10" cy="223.71" r="5.95" fill="#FF1E02" stroke="#CC0808" stroke-width="1.2"/>
<circle cx="1324.90" cy="264.45" r="5.95" fill="#FF1E02" stroke="#CC0808" stroke-width="1.2"/>
<circle cx="1467.70" cy="280.75" r="5.95" fill="#FF1E02" stroke="#CC0808" stroke-width="1.2"/>
<circle cx="1671.70" cy="305.19" r="5.95" fill="#FF1E02" stroke="#CC0808" stroke-width="1.2"/>
<circle cx="1365.70" cy="319.85" r="5.95" fill="#FF1E02" stroke="#CC0808" stroke-width="1.2"/>
<circle cx="1569.70" cy="329.63" r="5.95" fill="#FF1E02" stroke="#CC0808" stroke-width="1.2"/>
<circle cx="1182.10" cy="345.92" r="5.95" fill="#FF1E02" stroke="#CC0808" stroke-width="1.2"/>
<circle cx="1549.30" cy="345.92" r="5.95" fill="#FF1E02" stroke="#CC0808" stroke-width="1.2"/>
<circle cx="1426.90" cy="362.22" r="5.95" fill="#FF1E02" stroke="#CC0808" stroke-width="1.2"/>
<circle cx="1284.10" cy="411.10" r="5.95" fill="#FF1E02" stroke="#CC0808" stroke-width="1.2"/>
<circle cx="1141.30" cy="427.40" r="5.95" fill="#FF1E02" stroke="#CC0808" stroke-width="1.2"/>
<circle cx="1345.30" cy="427.40" r="5.95" fill="#FF1E02" stroke="#CC0808" stroke-width="1.2"/>
<circle cx="1569.70" cy="427.40" r="5.95" fill="#FF1E02" stroke="#CC0808" stroke-width="1.2"/>
<circle cx="1610.50" cy="427.40" r="5.95" fill="#FF1E02" stroke="#CC0808" stroke-width="1.2"/>
<circle cx="1447.30" cy="459.99" r="5.95" fill="#FF1E02" stroke="#CC0808" stroke-width="1.2"/>
<circle cx="1610.50" cy="459.99" r="5.95" fill="#FF1E02" stroke="#CC0808" stroke-width="1.2"/>
<circle cx="1080.10" cy="492.58" r="5.95" fill="#FF1E02" stroke="#CC0808" stroke-width="1.2"/>
<circle cx="1100.50" cy="492.58" r="5.95" fill="#FF1E02" stroke="#CC0808" stroke-width="1.2"/>
<circle cx="1182.10" cy="492.58" r="5.95" fill="#FF1E02" stroke="#CC0808" stroke-width="1.2"/>
<circle cx="1263.70" cy="525.17" r="5.95" fill="#FF1E02" stroke="#CC0808" stroke-width="1.2"/>
<circle cx="1141.30" cy="536.58" r="5.95" fill="#FF1E02" stroke="#CC0808" stroke-width="1.2"/>
<circle cx="1059.70" cy="590.35" r="5.95" fill="#FF1E02" stroke="#CC0808" stroke-width="1.2"/>
<circle cx="1080.10" cy="590.35" r="5.95" fill="#FF1E02" stroke="#CC0808" stroke-width="1.2"/>
<circle cx="1100.50" cy="590.35" r="5.95" fill="#FF1E02" stroke="#CC0808" stroke-width="1.2"/>
<circle cx="1120.90" cy="590.35" r="5.95" fill="#FF1E02" stroke="#CC0808" stroke-width="1.2"/>
<circle cx="1141.30" cy="590.35" r="5.95" fill="#FF1E02" stroke="#CC0808" stroke-width="1.2"/>
<circle cx="1161.70" cy="590.35" r="5.95" fill="#FF1E02" stroke="#CC0808" stroke-width="1.2"/>
<circle cx="1243.30" cy="590.35" r="5.95" fill="#FF1E02" stroke="#CC0808" stroke-width="1.2"/>
<circle cx="1263.70" cy="590.35" r="5.95" fill="#FF1E02" stroke="#CC0808" stroke-width="1.2"/>
<circle cx="1304.50" cy="590.35" r="5.95" fill="#FF1E02" stroke="#CC0808" stroke-width="1.2"/>
<circle cx="1324.90" cy="590.35" r="5.95" fill="#FF1E02" stroke="#CC0808" stroke-width="1.2"/>
<circle cx="1467.70" cy="590.35" r="5.95" fill="#FF1E02" stroke="#CC0808" stroke-width="1.2"/>
<text transform="translate(129.00,23.60) scale(1.000,1.060)" font-size="24.00" text-anchor="end">0.6</text>
<text transform="translate(129.00,84.60) scale(1.000,1.060)" font-size="24.00" text-anchor="end">0.5</text>
<text transform="translate(129.00,144.50) scale(1.000,1.060)" font-size="24.00" text-anchor="end">0.4</text>
<text transform="translate(129.00,204.40) scale(1.000,1.060)" font-size="24.00" text-anchor="end">0.3</text>
<text transform="translate(129.00,264.20) scale(1.000,1.060)" font-size="24.00" text-anchor="end">0.2</text>
<text transform="translate(129.00,323.70) scale(1.000,1.060)" font-size="24.00" text-anchor="end">0.1</text>
<text transform="translate(129.00,383.50) scale(1.000,1.060)" font-size="24.00" text-anchor="end">0.0</text>
<text transform="translate(333.00,404.30) scale(1.000,1.060)" font-size="24.00" text-anchor="middle">1</text>
<text transform="translate(457.00,404.30) scale(1.000,1.060)" font-size="24.00" text-anchor="middle">2</text>
<text transform="translate(580.60,404.30) scale(1.000,1.060)" font-size="24.00" text-anchor="middle">3</text>
<text transform="translate(703.40,404.30) scale(1.000,1.060)" font-size="24.00" text-anchor="middle">4</text>
<text transform="translate(517.60,435.20) scale(1.000,1.045)" font-size="26.80" text-anchor="middle">mean PRGS</text>
<text transform="translate(70.70,189.20) rotate(-90)" font-size="27.00" text-anchor="middle">Density</text>
<text transform="translate(4.00,36.60) scale(1.000,1.020)" font-size="43.50" font-weight="bold">A</text>
<text transform="translate(136.00,532.60) scale(1.000,1.060)" font-size="24.00" text-anchor="end">0.06</text>
<text transform="translate(136.00,585.80) scale(1.000,1.060)" font-size="24.00" text-anchor="end">0.05</text>
<text transform="translate(136.00,639.00) scale(1.000,1.060)" font-size="24.00" text-anchor="end">0.04</text>
<text transform="translate(136.00,692.20) scale(1.000,1.060)" font-size="24.00" text-anchor="end">0.03</text>
<text transform="translate(136.00,745.40) scale(1.000,1.060)" font-size="24.00" text-anchor="end">0.02</text>
<text transform="translate(136.00,798.60) scale(1.000,1.060)" font-size="24.00" text-anchor="end">0.01</text>
<text transform="translate(136.00,851.80) scale(1.000,1.060)" font-size="24.00" text-anchor="end">0.00</text>
<text transform="translate(328.80,871.00) scale(1.000,1.060)" font-size="24.00" text-anchor="middle">0</text>
<text transform="translate(426.88,871.00) scale(1.000,1.060)" font-size="24.00" text-anchor="middle">10</text>
<text transform="translate(526.36,871.00) scale(1.000,1.060)" font-size="24.00" text-anchor="middle">20</text>
<text transform="translate(625.84,871.00) scale(1.000,1.060)" font-size="24.00" text-anchor="middle">30</text>
<text transform="translate(725.22,871.00) scale(1.000,1.060)" font-size="24.00" text-anchor="middle">40</text>
<text transform="translate(522.00,906.00) scale(1.000,1.030)" font-size="27.00" text-anchor="middle">PCI</text>
<text transform="translate(68.80,660.90) rotate(-90)" font-size="27.00" text-anchor="middle">Density</text>
<text transform="translate(4.30,524.10) scale(0.930,1.000)" font-size="43.50" font-weight="bold">B</text>
<text transform="translate(1042.00,763.60) scale(1.000,1.055)" font-size="30.00" text-anchor="end">0</text>
<text transform="translate(1042.00,600.65) scale(1.000,1.055)" font-size="30.00" text-anchor="end">1</text>
<text transform="translate(1042.00,437.70) scale(1.000,1.055)" font-size="30.00" text-anchor="end">2</text>
<text transform="translate(1042.00,274.75) scale(1.000,1.055)" font-size="30.00" text-anchor="end">3</text>
<text transform="translate(1042.00,111.80) scale(1.000,1.055)" font-size="30.00" text-anchor="end">4</text>
<text transform="translate(1059.70,798.20) scale(1.000,1.055)" font-size="30.00" text-anchor="middle">0</text>
<text transform="translate(1263.70,798.20) scale(1.000,1.055)" font-size="30.00" text-anchor="middle">10</text>
<text transform="translate(1467.70,798.20) scale(1.000,1.055)" font-size="30.00" text-anchor="middle">20</text>
<text transform="translate(1671.70,798.20) scale(1.000,1.055)" font-size="30.00" text-anchor="middle">30</text>
<text transform="translate(1386.30,855.30)" font-size="36.00" text-anchor="middle">PCI</text>
<text transform="translate(1001.80,428.50) rotate(-90)" font-size="36.00" text-anchor="middle">PRGS</text>
<text transform="translate(1351.30,707.20) scale(1.000,1.052)" font-size="45.30">r=0.54, p &lt; 0.0001</text>
<text transform="translate(983.30,36.80) scale(0.950,1.020)" font-size="43.50" font-weight="bold">C</text>
</svg>
</body></html>
